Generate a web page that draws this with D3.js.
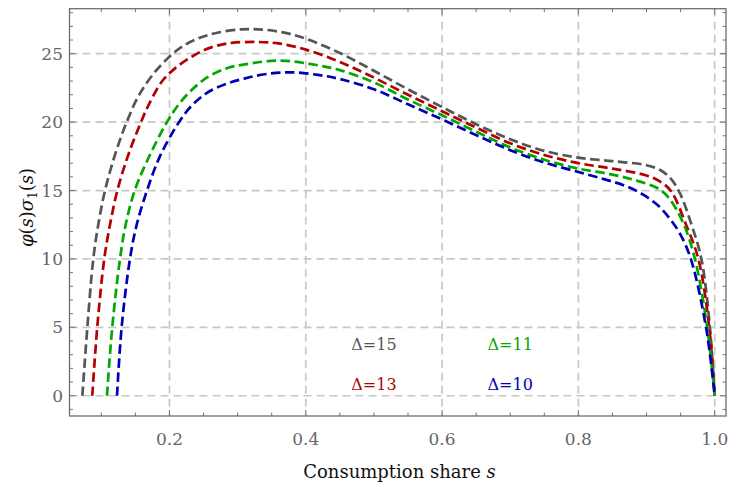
<!DOCTYPE html>
<html>
<head>
<meta charset="utf-8">
<script src="https://cdn.jsdelivr.net/npm/d3@7"></script>
<style>
  body { margin: 0; background: #fff; }
</style>
</head>
<body>
<svg id="chart" width="731" height="486" font-family="'DejaVu Serif', 'Liberation Serif', serif"></svg>
<script>
// curve samples: consumption share s and phi(s)*sigma_1(s)
var s15 = [0.0722, 0.0795, 0.0882, 0.0955, 0.1054, 0.12, 0.1372, 0.1567, 0.1836, 0.2179, 0.257, 0.306, 0.34, 0.372, 0.4, 0.45, 0.5, 0.55, 0.6, 0.65, 0.7, 0.75, 0.8, 0.85, 0.9, 0.92, 0.935, 0.949, 0.966, 0.9805, 0.993, 1.0];
var v15 = [0, 5, 10, 12.5, 15, 17.6, 20.0, 22.1, 23.95, 25.5, 26.37, 26.78, 26.75, 26.5, 26.1, 25.05, 23.75, 22.4, 21.1, 19.85, 18.75, 17.9, 17.4, 17.15, 16.85, 16.5, 15.9, 14.8, 12.5, 10, 5, 0];

var s13 = [0.0867, 0.094, 0.1043, 0.1127, 0.1235, 0.1395, 0.159, 0.1689, 0.1886, 0.2081, 0.2326, 0.257, 0.2863, 0.328, 0.36, 0.4, 0.45, 0.5, 0.55, 0.6, 0.65, 0.7, 0.75, 0.8, 0.85, 0.9, 0.92, 0.936, 0.958, 0.976, 0.992, 1.0];
var v13 = [0, 5, 10, 12.5, 15, 17.6, 20.1, 21.2, 22.95, 23.93, 24.78, 25.39, 25.76, 25.86, 25.75, 25.3, 24.4, 23.25, 22.0, 20.8, 19.6, 18.45, 17.6, 17.0, 16.6, 16.1, 15.65, 14.95, 12.5, 10, 5, 0];

var s11 = [0.1083, 0.116, 0.1274, 0.1357, 0.149, 0.1689, 0.1959, 0.2129, 0.2326, 0.257, 0.2863, 0.311, 0.36, 0.418, 0.45, 0.5, 0.55, 0.6, 0.65, 0.7, 0.75, 0.8, 0.846, 0.88, 0.915, 0.932, 0.954, 0.971, 0.989, 1.0];
var v11 = [0, 5, 10, 12.5, 15, 17.35, 19.96, 21.25, 22.35, 23.32, 23.98, 24.22, 24.5, 24.15, 23.8, 22.9, 21.65, 20.5, 19.3, 18.15, 17.25, 16.6, 16.2, 15.8, 15.2, 14.5, 12.6, 10, 5, 0];

var s10 = [0.123, 0.1298, 0.142, 0.1519, 0.167, 0.186, 0.214, 0.2326, 0.257, 0.2863, 0.311, 0.34, 0.377, 0.418, 0.45, 0.5, 0.55, 0.6, 0.65, 0.7, 0.75, 0.8, 0.84, 0.871, 0.895, 0.917, 0.934, 0.949, 0.965, 0.9873, 1.0];
var v10 = [0, 5, 10, 12.5, 15, 17.5, 20, 21.2, 22.2, 22.85, 23.2, 23.5, 23.64, 23.45, 23.15, 22.4, 21.3, 20.2, 19.05, 17.95, 17.05, 16.35, 15.8, 15.3, 14.7, 13.9, 12.95, 11.85, 10, 5, 0];

var deltas = [15, 13, 11, 10];
var colors = ["#555555", "#b30000", "#00a800", "#0000b3"];
// where each Delta label sits, in data coordinates
var labelS = [0.5, 0.5, 0.7, 0.7];
var labelV = [3.75, 0.85, 3.75, 0.85];

var xTicks = [0.2, 0.4, 0.6, 0.8, 1.0];
var yTicks = [0, 5, 10, 15, 20, 25];

var series = [
  {delta: deltas[0], s: s15, v: v15},
  {delta: deltas[1], s: s13, v: v13},
  {delta: deltas[2], s: s11, v: v11},
  {delta: deltas[3], s: s10, v: v10}
];

var svg = d3.select("#chart");
var pLeft = 69.5, pRight = 726, pTop = 8.7, pBottom = 416;

var x = d3.scaleLinear().domain([0.0533, 1.0166]).range([pLeft, pRight]);
var y = d3.scaleLinear().domain([-1.48, 28.29]).range([pBottom, pTop]);

// grid
var grid = svg.append("g").attr("stroke", "#c8c8c8").attr("stroke-width", 1.7).attr("stroke-dasharray", "8,5");
grid.selectAll(null).data(xTicks).join("line")
  .attr("x1", d => x(d)).attr("x2", d => x(d)).attr("y1", pTop).attr("y2", pBottom);
grid.selectAll(null).data(yTicks).join("line")
  .attr("x1", pLeft).attr("x2", pRight).attr("y1", d => y(d)).attr("y2", d => y(d));

// frame ticks on all four sides, pointing inwards
var xMinor = d3.range(0.1, 1.0001, 0.05).filter(d => xTicks.every(t => Math.abs(t - d) > 1e-6));
var yMinor = d3.range(-1, 29, 1).filter(d => d % 5 !== 0);
var tk = svg.append("g").attr("stroke", "#777").attr("stroke-width", 1);
function vTicks(vals, len) {
  tk.append("g").selectAll("line").data(vals).join("line")
    .attr("x1", d => x(d)).attr("x2", d => x(d)).attr("y1", pBottom).attr("y2", pBottom - len);
  tk.append("g").selectAll("line").data(vals).join("line")
    .attr("x1", d => x(d)).attr("x2", d => x(d)).attr("y1", pTop).attr("y2", pTop + len);
}
function hTicks(vals, len) {
  tk.append("g").selectAll("line").data(vals).join("line")
    .attr("x1", pLeft).attr("x2", pLeft + len).attr("y1", d => y(d)).attr("y2", d => y(d));
  tk.append("g").selectAll("line").data(vals).join("line")
    .attr("x1", pRight).attr("x2", pRight - len).attr("y1", d => y(d)).attr("y2", d => y(d));
}
vTicks(xTicks, 6); vTicks(xMinor, 3.5);
hTicks(yTicks, 6); hTicks(yMinor, 3.5);

// curves
var line = d3.line().x(d => x(d[0])).y(d => y(d[1])).curve(d3.curveCatmullRom.alpha(0.5));
svg.append("g").selectAll("path").data(series).join("path")
  .attr("d", d => line(d3.zip(d.s, d.v)))
  .attr("fill", "none")
  .attr("stroke", (d, i) => colors[i])
  .attr("stroke-width", 2.7)
  .attr("stroke-dasharray", "9.5,4.5");

// frame
svg.append("rect").attr("x", pLeft).attr("y", pTop)
  .attr("width", pRight - pLeft).attr("height", pBottom - pTop)
  .attr("fill", "none").attr("stroke", "#6e6e6e").attr("stroke-width", 1.3);

// tick labels
svg.append("g").selectAll("text").data(xTicks).join("text")
  .attr("x", d => x(d)).attr("y", 445)
  .attr("text-anchor", "middle").attr("font-size", 17).attr("fill", "#666")
  .text(d => d3.format(".1f")(d));
svg.append("g").selectAll("text").data(yTicks).join("text")
  .attr("x", 63).attr("y", d => y(d) + 6)
  .attr("text-anchor", "end").attr("font-size", 17).attr("fill", "#666")
  .text(d => d);

// Delta labels
svg.append("g").selectAll("text").data(series).join("text")
  .attr("x", (d, i) => x(labelS[i])).attr("y", (d, i) => y(labelV[i]) + 6)
  .attr("text-anchor", "middle").attr("font-size", 16)
  .attr("fill", (d, i) => colors[i])
  .text(d => "\u0394=" + d.delta);

// axis titles
var xt = svg.append("text").attr("x", 399.5).attr("y", 478)
  .attr("text-anchor", "middle").attr("font-size", 18).attr("fill", "#111");
xt.append("tspan").text("Consumption share ");
xt.append("tspan").attr("font-style", "italic").text("s");

var yt = svg.append("text")
  .attr("transform", "translate(33,207.5) rotate(-90)")
  .attr("text-anchor", "middle").attr("font-size", 18).attr("fill", "#111");
yt.append("tspan").attr("font-style", "italic").text("\u03c6");
yt.append("tspan").text("(");
yt.append("tspan").attr("font-style", "italic").text("s");
yt.append("tspan").text(")");
yt.append("tspan").attr("font-style", "italic").text("\u03c3");
yt.append("tspan").attr("font-size", 12).attr("dy", 4).text("1");
yt.append("tspan").attr("dy", -4).text("(");
yt.append("tspan").attr("font-style", "italic").text("s");
yt.append("tspan").text(")");
</script>
</body>
</html>
